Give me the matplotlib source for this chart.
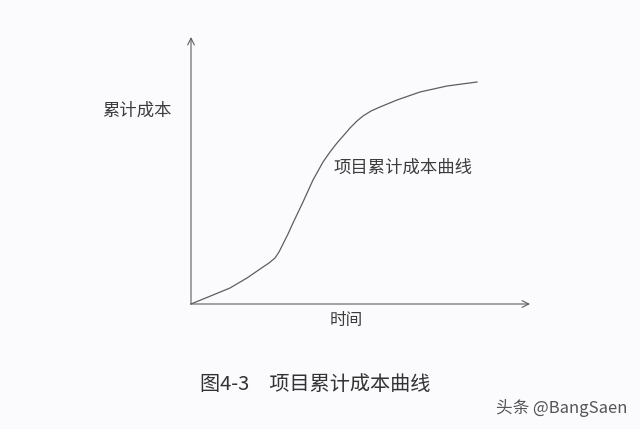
import matplotlib
matplotlib.use("Agg")
from matplotlib import pyplot as plt

plt.rcParams['font.family'] = ['Noto Sans CJK SC', 'DejaVu Sans']

# values (arbitrary units, origin at the axes corner)
time = [0, 22, 39, 56, 72, 78, 84, 88, 92, 97, 102, 112, 122, 132, 139, 146,
        153, 159, 166, 172, 180, 189, 206, 229, 256, 286]
cost = [0, 9, 16, 26, 37, 41, 46, 52, 60, 70, 81, 102, 124, 142, 152, 161,
        169, 176, 183, 188, 193, 197, 204, 212, 218, 222]

x_label = '时间'
y_label = '累计成本'
curve_label = '项目累计成本曲线'
caption = '图4-3　项目累计成本曲线'
watermark = '头条 @BangSaen'

line_color = '#5e5e5e'
text_color = '#3c3c3c'

fig = plt.figure(figsize=(6.4, 4.29), dpi=100)
fig.patch.set_facecolor('#fbfbfd')
ax = fig.add_axes([0, 0, 1, 1])
ax.set_facecolor('#fbfbfd')
ax.set_xlim(-191, 449)
ax.set_ylim(-125, 304)
ax.axis('off')

# axes with open arrow heads
arrow = dict(arrowstyle='->', color=line_color, lw=0.8, shrinkA=0, shrinkB=0,
             mutation_scale=12)
ax.annotate('', xy=(339, 0), xytext=(0, 0), arrowprops=arrow)
ax.annotate('', xy=(0, 267), xytext=(0, 0), arrowprops=arrow)

ax.plot(time, cost, color=line_color, lw=0.9, solid_joinstyle='round')

ax.text(-54, 193, y_label, fontsize=12.5, color=text_color, ha='center', va='center')
ax.text(155, -17, x_label, fontsize=12, color=text_color, ha='center', va='center')
ax.text(212, 136, curve_label, fontsize=12.5, color=text_color, ha='center', va='center')
ax.text(124, -80, caption, fontsize=14.5, color='#333333', ha='center', va='center')
ax.text(436, -104, watermark, fontsize=12, color='#555555', ha='right', va='center')

fig.savefig('out.png', dpi=100, facecolor=fig.get_facecolor())
